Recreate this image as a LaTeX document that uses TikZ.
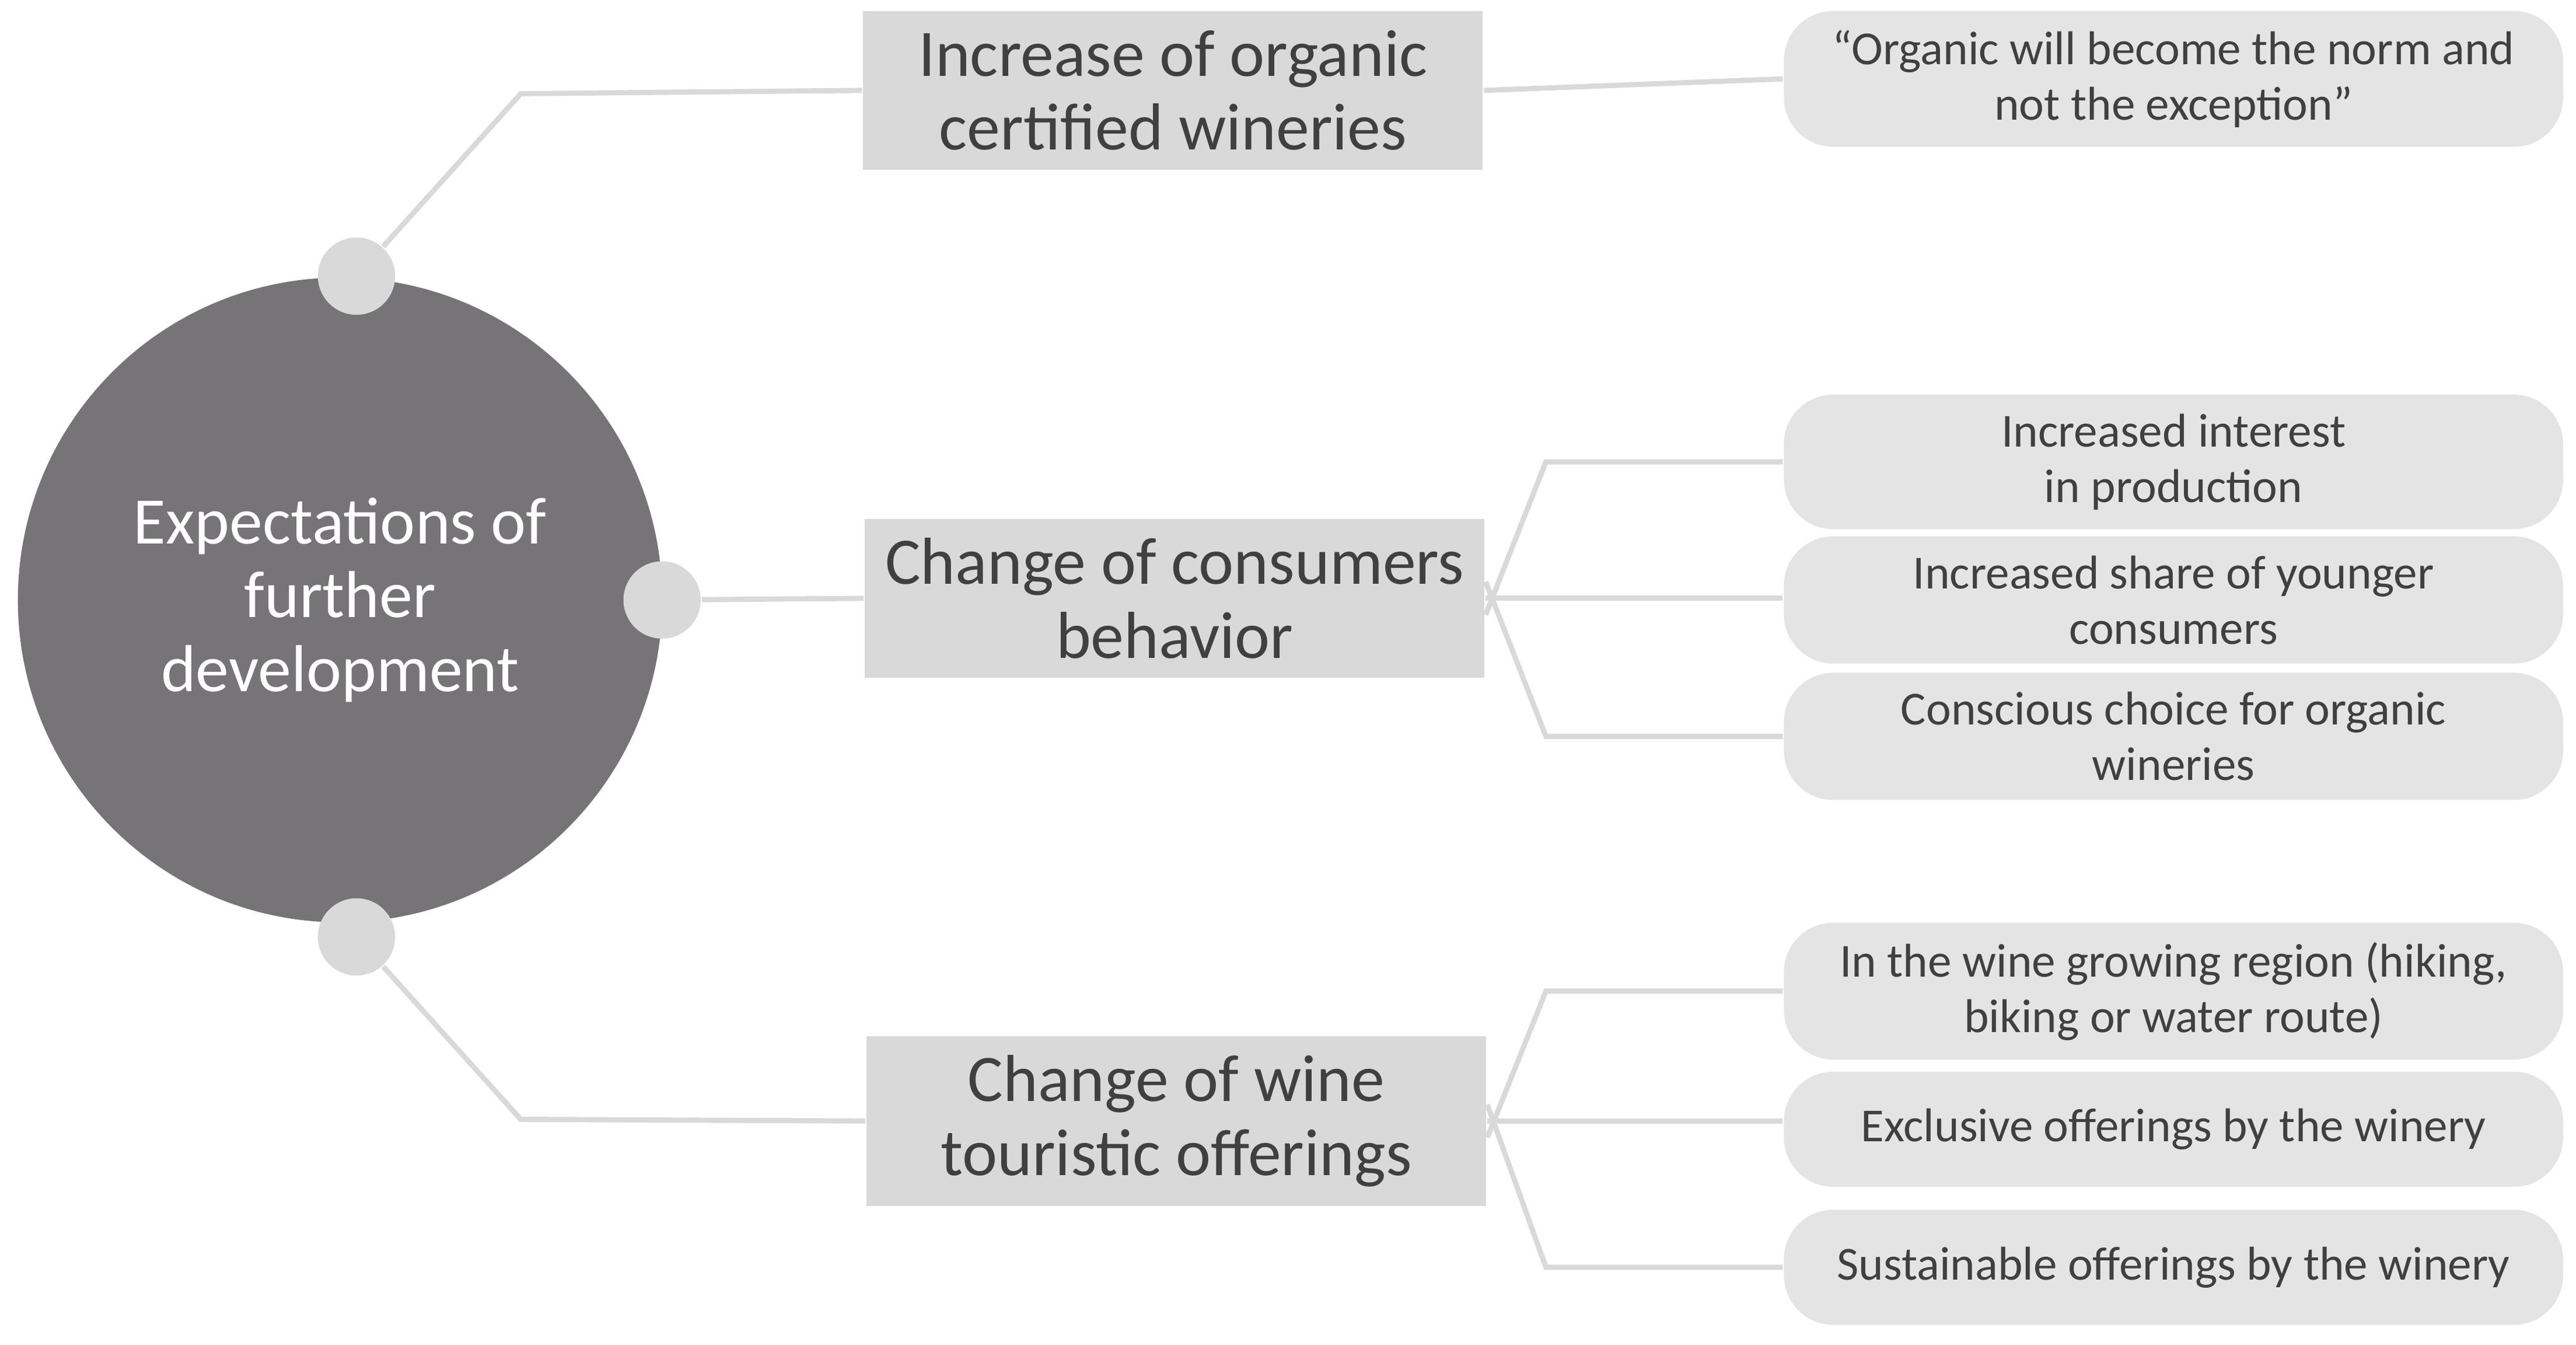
\documentclass[tikz,border=0pt]{standalone}
\usepackage{fontspec}
\setmainfont{Carlito}
\definecolor{lg}{HTML}{D9D9D9}
\definecolor{dg}{HTML}{767477}
\definecolor{tx}{HTML}{404040}
\begin{document}
\begin{tikzpicture}[x=0.01cm,y=-0.01cm,
  ln/.style={draw=lg,line width=0.9pt},
  dot/.style={circle,fill=lg,minimum size=0.47cm,inner sep=0},
  mid/.style={fill=lg,minimum width=3.77cm,minimum height=0.93cm,align=center,font=\fontsize{11.5}{12.8}\selectfont,text=tx},
  leaf/.style={fill=lg!70!white,rounded corners=0.3cm,minimum width=4.74cm,minimum height=0.7cm,align=center,font=\fontsize{8.2}{9.6}\selectfont,text=tx}]
\useasboundingbox (0,0) rectangle (1568,818);
\node[circle,fill=dg,minimum size=3.92cm,inner sep=0,align=center,text=white,font=\fontsize{11.5}{12.8}\selectfont] (c) at (207,365) {Expectations of\\further\\development};
\node[dot] (d1) at (217,168) {};
\node[dot] (d2) at (403,365) {};
\node[dot] (d3) at (217,570) {};
\node[mid] (m1) at (714,55) {Increase of organic\\certified wineries};
\node[mid] (m2) at (715,364) {Change of consumers\\behavior};
\node[mid] (m3) at (716,682) {Change of wine\\touristic offerings};
\node[leaf] (l1) at (1323,48) {“Organic will become the norm and\\not the exception”};
\node[leaf] (l2) at (1323,281) {Increased interest\\in production};
\node[leaf] (l3) at (1323,365) {Increased share of younger\\consumers};
\node[leaf] (l4) at (1323,448) {Conscious choice for organic\\wineries};
\node[leaf] (l5) at (1323,603) {In the wine growing region (hiking,\\biking or water route)};
\node[leaf] (l6) at (1323,687) {Exclusive offerings by the winery};
\node[leaf] (l7) at (1323,771) {Sustainable offerings by the winery};
\begin{scope}[on background layer/.try]
\end{scope}
\draw[ln] (d1) -- (317,57) -- (m1.west);
\draw[ln] (d2) -- (m2.west);
\draw[ln] (d3) -- (317,681) -- (m3.west);
\draw[ln] (m1.east) -- (l1.west);
\draw[ln] ([yshift=-0.1cm]m2.east) -- (941,281) -- (l2.west);
\draw[ln] (m2.east) -- (l3.west |- m2.east);
\draw[ln] ([yshift=0.1cm]m2.east) -- (941,448) -- (l4.west);
\draw[ln] ([yshift=-0.1cm]m3.east) -- (941,603) -- (l5.west);
\draw[ln] (m3.east) -- (l6.west |- m3.east);
\draw[ln] ([yshift=0.1cm]m3.east) -- (941,771) -- (l7.west);
\end{tikzpicture}
\end{document}
